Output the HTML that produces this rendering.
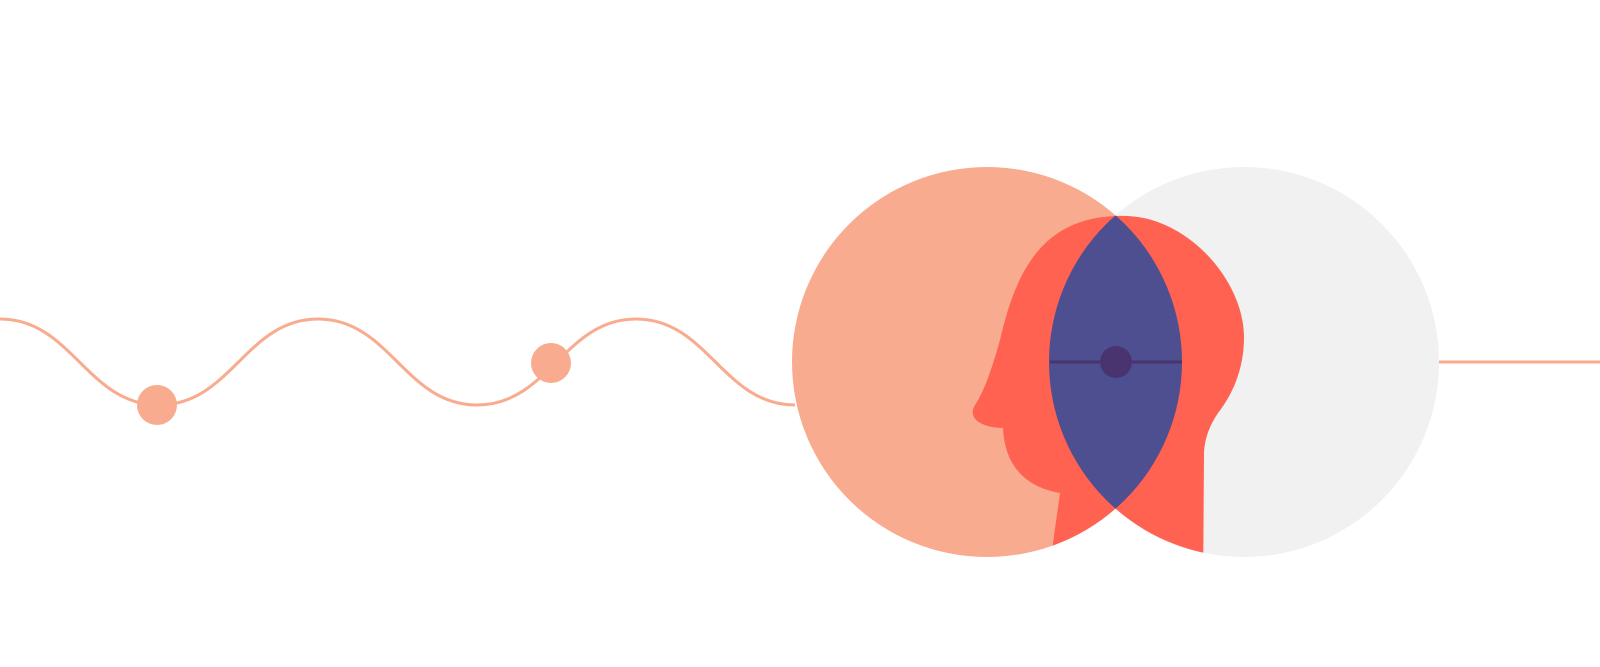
<!DOCTYPE html>
<html><head><meta charset="utf-8"><style>html,body{margin:0;padding:0;background:#fff}svg{display:block}</style></head>
<body>
<svg width="1600" height="667" viewBox="0 0 1600 667" xmlns="http://www.w3.org/2000/svg">
<defs>
<clipPath id="u"><circle cx="987" cy="362" r="195"/><circle cx="1244" cy="362" r="195"/></clipPath>
<clipPath id="r"><circle cx="1244" cy="362" r="195"/></clipPath>
</defs>
<path d="M0,319 C72,319 87,405 159,405 C231,405 246,319 318,319 C390,319 405,405 477,405 C549,405 564,319 636,319 C708,319 723,405 795,405" fill="none" stroke="#F9AB8F" stroke-width="3"/>
<circle cx="157" cy="405" r="20" fill="#F9AB8F"/>
<circle cx="551" cy="363" r="20" fill="#F9AB8F"/>
<line x1="1430" y1="362" x2="1600" y2="362" stroke="#F9AB8F" stroke-width="3"/>
<circle cx="1244" cy="362" r="195" fill="#F0F1F0"/>
<circle cx="987" cy="362" r="195" fill="#F9AB8F"/>
<path clip-path="url(#u)" fill="#FF6250" d="M1117,216 C1185,212 1244,280 1244,337 C1244,370 1232,395 1218,413 C1210,425 1205,437 1204,452 L1203,600 L1045,600 L1060,493 C1030,488 1005,470 1003,428 C985,428 966,420 975,405 C985,390 993,365 1000,340 C1015,275 1040,218 1117,216 Z"/>
<circle cx="987" cy="362" r="195" fill="#4D4F91" clip-path="url(#r)"/>
<line x1="1050" y1="362" x2="1182" y2="362" stroke="#4A3470" stroke-width="3" clip-path="url(#r)"/>
<circle cx="1116" cy="362" r="16" fill="#4A3470"/>
</svg>
</body></html>
